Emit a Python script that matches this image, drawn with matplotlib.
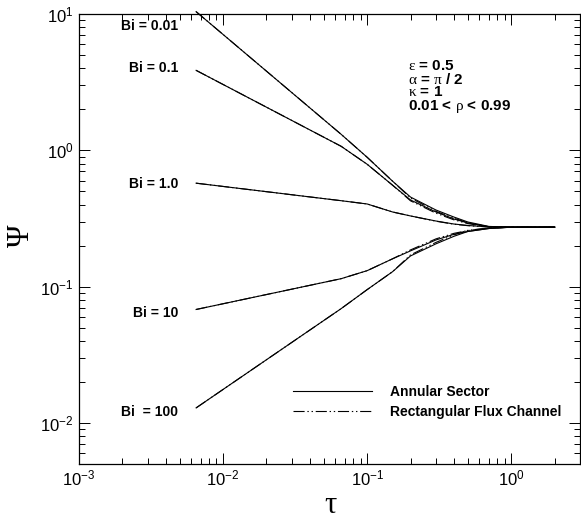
import matplotlib
matplotlib.use("Agg")
import matplotlib.pyplot as plt

plt.rcParams['font.family'] = ['Liberation Sans', 'DejaVu Sans']
plt.rcParams['mathtext.fontset'] = 'custom'
plt.rcParams['mathtext.rm'] = 'Liberation Serif'
plt.rcParams['lines.scale_dashes'] = False

# dimensionless time and the five Biot number curves
tau = [0.0065, 0.066, 0.1, 0.15, 0.2, 0.3, 0.4, 0.5, 0.7, 1.0, 2.0]

annular = {
    "0.01": [10.4, 1.31, 0.889, 0.594, 0.454, 0.365, 0.324, 0.298, 0.2765, 0.273, 0.273],
    "0.1": [3.86, 1.07, 0.79, 0.555, 0.432, 0.353, 0.3135, 0.293, 0.275, 0.273, 0.273],
    "1.0": [0.574, 0.427, 0.404, 0.353, 0.330, 0.303, 0.288, 0.281, 0.274, 0.273, 0.273],
    "10": [0.068, 0.1144, 0.131, 0.160, 0.183, 0.220, 0.242, 0.254, 0.267, 0.273, 0.273],
    "100": [0.0129, 0.069, 0.0951, 0.1287, 0.168, 0.206, 0.234, 0.254, 0.267, 0.273, 0.273],
}
rectangular = {
    "0.01": [10.4, 1.31, 0.889, 0.594, 0.447, 0.357, 0.318, 0.294, 0.275, 0.273, 0.273],
    "0.1": [3.86, 1.07, 0.79, 0.555, 0.426, 0.346, 0.309, 0.290, 0.274, 0.273, 0.273],
    "1.0": [0.574, 0.427, 0.404, 0.353, 0.330, 0.302, 0.287, 0.280, 0.274, 0.273, 0.273],
    "10": [0.068, 0.1144, 0.131, 0.160, 0.186, 0.224, 0.246, 0.258, 0.269, 0.273, 0.273],
    "100": [0.0129, 0.069, 0.0951, 0.1287, 0.171, 0.211, 0.240, 0.259, 0.269, 0.273, 0.273],
}

bi_labels = ["Bi = 0.01", "Bi = 0.1", "Bi = 1.0", "Bi = 10", "Bi  = 100"]
param_lines = [r"$\mathrm{\varepsilon}$ = 0.5",
               r"$\mathrm{\alpha}$ = $\mathrm{\pi}$ / 2",
               r"$\mathrm{\kappa}$ = 1",
               r"0.01 < $\mathrm{\rho}$ < 0.99"]

fig = plt.figure(figsize=(5.81, 5.22), dpi=100)
ax = fig.add_axes([79 / 581, 1 - 464 / 522, 501 / 581, 450 / 522])

for i, key in enumerate(annular):
    ax.plot(tau, rectangular[key], color='black', lw=0.8,
            dashes=(8, 2, 1, 2, 1, 2), clip_on=False,
            label="Rectangular Flux Channel" if i == 0 else None)
    ax.plot(tau, annular[key], color='black', lw=0.8, clip_on=False,
            label="Annular Sector" if i == 0 else None)

ax.set_xscale('log')
ax.set_yscale('log')
ax.set_xlim(1e-3, 3)
ax.set_ylim(5e-3, 10)

ax.tick_params(which='both', direction='in', top=True, right=True,
               width=0.7, labelsize=12)
ax.tick_params(which='major', length=8)
ax.tick_params(which='minor', length=4.5)
ax.tick_params(axis='x', pad=3)
ax.tick_params(axis='y', pad=4)
for s in ax.spines.values():
    s.set_linewidth(0.9)

# curve labels at the left end of each line
bi_y = [26, 68, 184.5, 313, 412]
for lab, yp in zip(bi_labels, bi_y):
    ax.text(178 / 581, 1 - yp / 522, lab, transform=fig.transFigure,
            ha='right', va='center', fontsize=10, fontweight='bold')

# case parameters as one block
ax.text(408 / 581, 1 - 59 / 522, "\n".join(param_lines), transform=fig.transFigure,
        ha='left', va='top', fontsize=11, fontweight='bold', linespacing=0.88)

ax.set_xlabel('τ', family='Liberation Serif', fontsize=22, va='center')
ax.xaxis.set_label_coords(0.501, -0.093)
ax.set_ylabel('Ψ', family='Liberation Serif', fontsize=22, va='center')
ax.yaxis.set_label_coords((21 - 79) / 501, (464 - 236) / 450)

handles, labels = ax.get_legend_handles_labels()
order = [labels.index("Annular Sector"), labels.index("Rectangular Flux Channel")]
leg = ax.legend([handles[o] for o in order], [labels[o] for o in order],
                loc='upper left', bbox_to_anchor=((293 - 79) / 501, (464 - 385) / 450),
                frameon=False, borderaxespad=0, borderpad=0,
                handlelength=5.7, handletextpad=1.3, labelspacing=0.45,
                prop={'size': 10, 'weight': 'bold'})

fig.savefig('out.png', dpi=100)
